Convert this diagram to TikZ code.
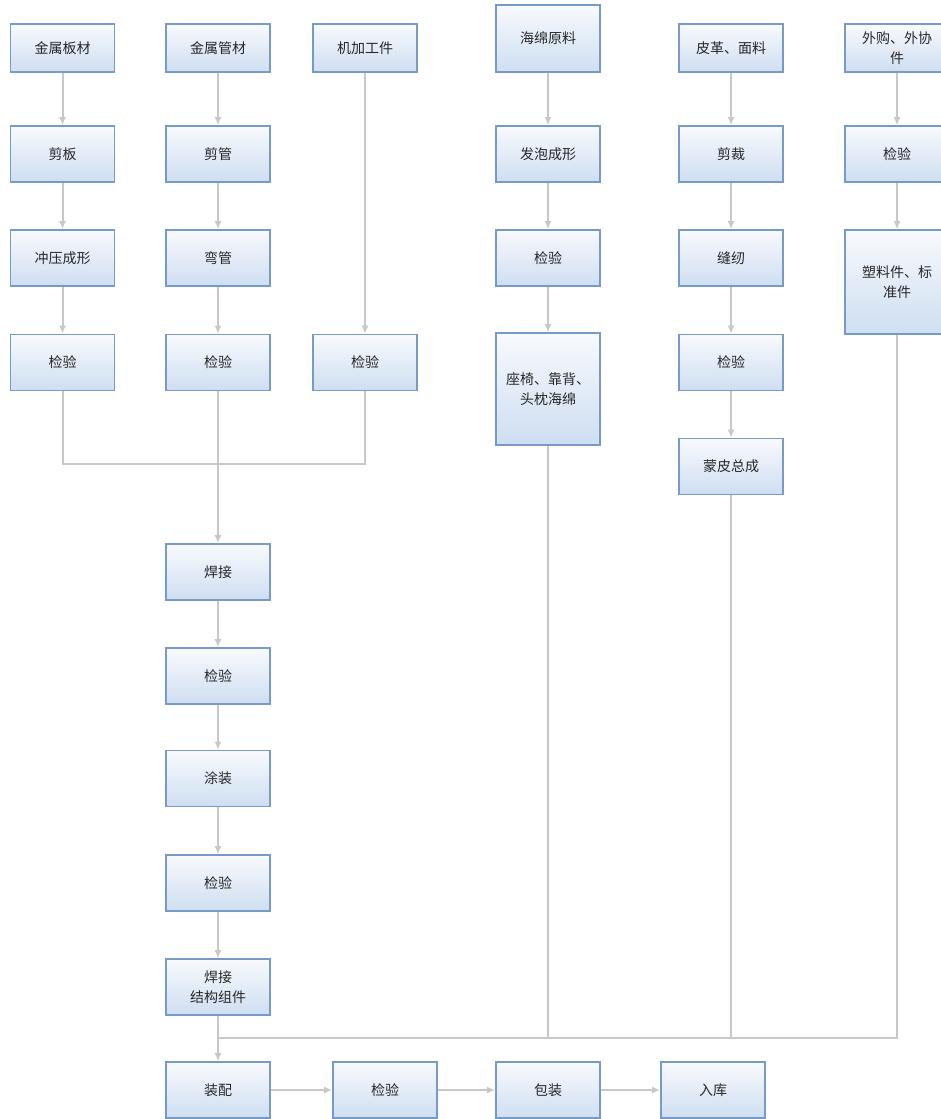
\documentclass[tikz,border=0pt]{standalone}
\usepackage{fontspec}
\newfontfamily\cjk{Noto Sans CJK SC}
\usepackage{xcolor}
\usepackage{tikz}
\usetikzlibrary{positioning,arrows.meta}

\definecolor{boxline}{RGB}{118,155,196}
\definecolor{boxtop}{RGB}{248,250,253}
\definecolor{boxbot}{RGB}{206,222,241}
\definecolor{flowline}{RGB}{200,200,200}
\definecolor{boxtext}{RGB}{40,40,40}

\begin{document}
\begin{tikzpicture}[x=1pt,y=-1pt,->,>={Latex[length=8pt,width=7pt]},line width=2pt,draw=flowline,
  step box/.style={rectangle,draw=boxline,line width=1.6pt,top color=boxtop,bottom color=boxbot,
    minimum width=104pt,minimum height=56pt,inner sep=2pt,align=center,
    text=boxtext,font=\cjk\fontsize{14}{20}\selectfont}]

    \useasboundingbox (0,0) rectangle (941,1119);

    % Metal parts
	\node [step box,minimum height=48pt] at (62.5,48) (plate) {金属板材};
	\node [step box] at (62.5,154) (cutp) {剪板};
	\node [step box] at (62.5,258) (press) {冲压成形};
	\node [step box] at (62.5,362.5) (ck1) {检验};

	\node [step box,minimum height=48pt] at (218,48) (tube) {金属管材};
	\node [step box] at (218,154) (cutt) {剪管};
	\node [step box] at (218,258) (bend) {弯管};
	\node [step box] at (218,362.5) (ck2) {检验};

	\node [step box,minimum height=48pt] at (365,48) (mach) {机加工件};
	\node [step box] at (365,362.5) (ck3) {检验};

	\node [step box] at (218,572) (weld) {焊接};
	\node [step box] at (218,676) (ck4) {检验};
	\node [step box] at (218,778.5) (paint) {涂装};
	\node [step box] at (218,883) (ck5) {检验};
	\node [step box] at (218,987) (wsa) {焊接\\结构组件};

    % Foam
	\node [step box,minimum height=67pt] at (548,38.5) (foam) {海绵原料};
	\node [step box] at (548,154) (mould) {发泡成形};
	\node [step box] at (548,258) (ck6) {检验};
	\node [step box,minimum height=112pt] at (548,389) (seat) {座椅、靠背、\\头枕海绵};

    % Leather
	\node [step box,minimum height=48pt] at (731,48) (leather) {皮革、面料};
	\node [step box] at (731,154) (cutl) {剪裁};
	\node [step box] at (731,258) (sew) {缝纫};
	\node [step box] at (731,362.5) (ck7) {检验};
	\node [step box] at (731,466.5) (skin) {蒙皮总成};

    % Bought parts
	\node [step box,minimum height=48pt] at (897,48) (buy) {外购、外协\\件};
	\node [step box] at (897,154) (ck8) {检验};
	\node [step box,minimum height=104pt] at (897,282) (plastic) {塑料件、标\\准件};

    % Final line
	\node [step box] at (218,1090) (assy) {装配};
	\node [step box] at (385,1090) (ck9) {检验};
	\node [step box] at (548,1090) (pack) {包装};
	\node [step box] at (713,1090) (store) {入库};

	\coordinate (join) at (218,464);
	\coordinate (bus) at (218,1038);

	% Graph edges
	\path[->]
	(plate) edge (cutp)
	(cutp) edge (press)
	(press) edge (ck1)
	(tube) edge (cutt)
	(cutt) edge (bend)
	(bend) edge (ck2)
	(mach) edge (ck3);

	\draw[-] (ck1.south) |- (join) -| (ck3.south);

	\path[->]
	(ck2) edge (weld)
	(weld) edge (ck4)
	(ck4) edge (paint)
	(paint) edge (ck5)
	(ck5) edge (wsa)
	(wsa) edge (assy);

	\path[->]
	(foam) edge (mould)
	(mould) edge (ck6)
	(ck6) edge (seat)
	(leather) edge (cutl)
	(cutl) edge (sew)
	(sew) edge (ck7)
	(ck7) edge (skin)
	(buy) edge (ck8)
	(ck8) edge (plastic);

	\draw[-] (seat.south) |- (bus);
	\draw[-] (skin.south) |- (bus);
	\draw[-] (plastic.south) |- (bus);

	\path[->]
	(assy) edge (ck9)
	(ck9) edge (pack)
	(pack) edge (store);

\end{tikzpicture}
\end{document}
